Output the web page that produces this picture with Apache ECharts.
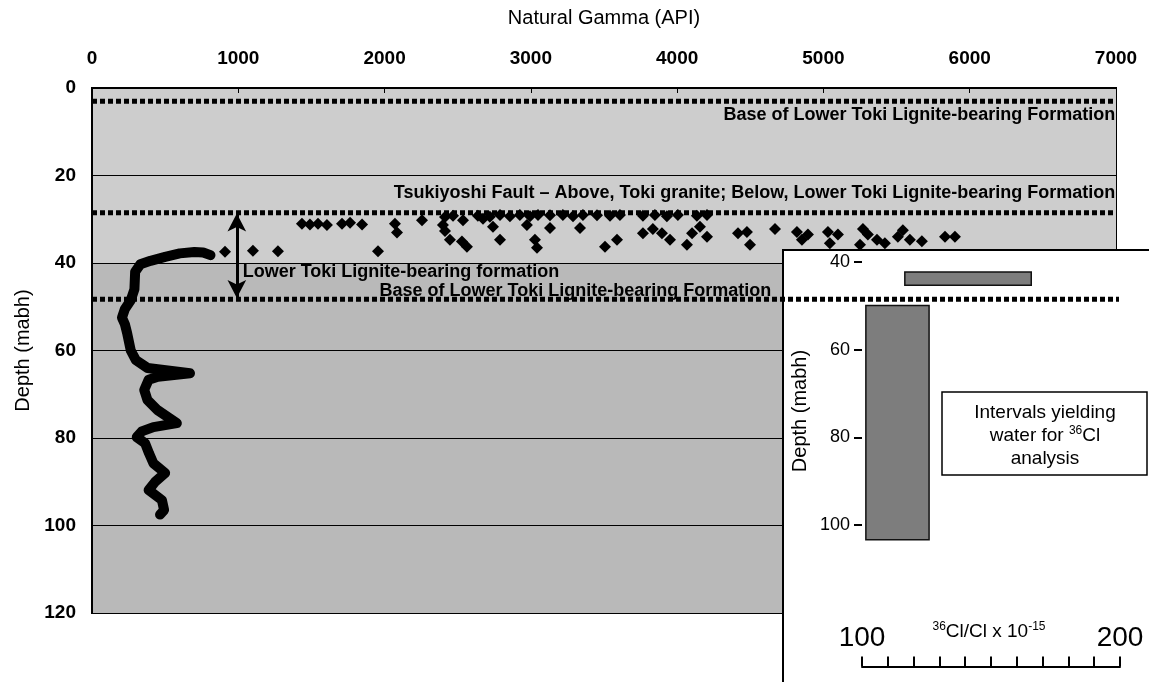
<!DOCTYPE html>
<html>
<head>
<meta charset="utf-8">
<title>Natural gamma log</title>
<script src="https://cdn.jsdelivr.net/npm/echarts@6/dist/echarts.min.js"></script>
<style>
  html, body { margin: 0; padding: 0; background: #fff; }
  #chart { width: 1149px; height: 682px; }
</style>
</head>
<body>
<div id="chart"></div>
<script>
  // gamma log trace: [API, depth]
  const gammaLog = [
    [810, 38.2], [760, 37.6], [700, 37.5], [600, 37.8], [500, 38.6], [400, 39.5], [330, 40.3],
    [295, 42], [290, 46], [265, 48.5], [225, 50.5], [205, 52.5], [225, 54],
    [240, 56], [265, 60], [300, 62.2], [380, 64], [670, 65.2], [450, 66], [387, 66.7],
    [357, 69], [379, 71.3], [447, 73.6], [580, 76.6], [420, 77.5], [340, 78.5], [306, 79.8],
    [363, 81.2], [390, 83.5], [420, 85.8], [500, 88], [432, 90], [387, 91.9], [478, 94.2],
    [493, 96.5], [465, 97.5]
  ]

  // diamonds: [API, depth]
  const gammaPoints = [
    [909, 37.4], [1100, 37.2], [1271, 37.3], [1955, 37.3],
    [1435, 31], [1490, 31.2], [1545, 31], [1606, 31.3], [1709, 31], [1764, 30.8], [1846, 31.2],
    [2071, 31], [2085, 33], [2256, 30.2], [2399, 31.3], [2413, 32.7], [2413, 29.5],
    [2468, 29.2], [2638, 29.2], [2720, 29.4], [2789, 29], [2857, 29.3], [2925, 29], [2994, 29.3],
    [3049, 29], [3131, 29.1], [3219, 29], [3288, 29.3], [3356, 29], [3452, 29.1], [3541, 29.2],
    [3609, 29], [3766, 29.2], [3848, 29], [3930, 29.3], [4005, 29], [4135, 29.2], [4204, 29],
    [2536, 30.2], [2673, 29.9], [2741, 31.7], [2973, 31.3], [3131, 32], [3336, 32],
    [2447, 34.7], [2529, 35.1], [2563, 36.3], [2789, 34.7], [3028, 34.7], [3042, 36.5], [3507, 36.3],
    [3589, 34.7], [3766, 33.2], [3834, 32.2], [3896, 33.2], [3951, 34.7], [4102, 33.2], [4156, 31.7],
    [4204, 34], [4067, 35.8],
    [4416, 33.2], [4477, 32.9], [4498, 35.8], [4669, 32.2], [4819, 32.9], [4853, 34.7], [4894, 33.5],
    [5031, 32.9], [5044, 35.5], [5099, 33.5], [5250, 35.8], [5270, 32.2], [5304, 33.5], [5366, 34.7],
    [5420, 35.5], [5509, 34], [5543, 32.5], [5591, 34.7], [5673, 35], [5831, 34], [5899, 34]
  ]

  // dotted horizons: depth and API where the line stops
  const horizonDepths = [3, 28.5, 48.3]
  const horizonEnds = [7000, 7000, 7240]

  // text notes: [API, depth, text, side]
  const notes = [
    [6995, 6.2, 'Base of Lower Toki Lignite-bearing Formation', 'left'],
    [6995, 24, 'Tsukiyoshi Fault \u2013 Above, Toki granite; Below, Lower Toki Lignite-bearing Formation', 'left'],
    [1030, 42, 'Lower Toki Lignite-bearing formation', 'right'],
    [1965, 46.4, 'Base of Lower Toki Lignite-bearing Formation', 'right']
  ]
  const arrowApi = 990
  const arrowDepths = [28.7, 48]

  // inset: 36Cl sampling intervals [ratio from, ratio to, depth top, depth bottom]
  const clIntervals = [
    [116.6, 165.6, 42.3, 45.3],
    [101.5, 126, 49.9, 103.4]
  ]

  const FONT = '"Liberation Sans", Arial, sans-serif'
  const chart = echarts.init(document.getElementById('chart'))

  const horizonSeries = horizonDepths.map((d, i) => ({
    type: 'line',
    xAxisIndex: 0, yAxisIndex: 0,
    data: [[0, d], [horizonEnds[i], d]],
    showSymbol: false,
    clip: false,
    z: 4,
    lineStyle: { color: '#000', width: 5, type: [5, 3], cap: 'butt' }
  }))

  chart.setOption({
    animation: false,
    textStyle: { fontFamily: FONT },
    grid: [
      { left: 92, right: 33, top: 88, bottom: 69, show: true, backgroundColor: 'transparent', borderColor: '#000', borderWidth: 2 },
      { left: 862, right: 29, top: 262, bottom: 69.4 }
    ],
    xAxis: [
      {
        gridIndex: 0, type: 'value', position: 'top', min: 0, max: 7000, interval: 1000,
        name: 'Natural Gamma (API)', nameLocation: 'middle', nameGap: 60,
        nameTextStyle: { fontSize: 20, color: '#000', fontFamily: FONT },
        axisLine: { show: true, lineStyle: { color: '#000', width: 1 } },
        axisTick: { show: true, inside: true, length: 5, lineStyle: { color: '#000' } },
        axisLabel: { fontSize: 19, fontWeight: 'bold', color: '#000', margin: 20, fontFamily: FONT, formatter: v => String(v) },
        splitLine: { show: false }
      },
      {
        gridIndex: 1, type: 'value', position: 'bottom', offset: 54, min: 100, max: 200, interval: 10,
        z: 3,
        axisLine: { show: true, lineStyle: { color: '#000', width: 2 } },
        axisTick: { show: true, inside: true, length: 10, lineStyle: { color: '#000', width: 2 } },
        axisLabel: { inside: true, margin: 14, fontSize: 28, color: '#000', fontFamily: FONT, customValues: [100, 200] },
        splitLine: { show: false }
      }
    ],
    yAxis: [
      {
        gridIndex: 0, type: 'value', inverse: true, min: 0, max: 120, interval: 20,
        name: 'Depth (mabh)', nameLocation: 'middle', nameGap: 59,
        nameTextStyle: { fontSize: 20, color: '#000', fontFamily: FONT },
        axisLine: { show: true, lineStyle: { color: '#000', width: 2 } },
        axisTick: { show: false },
        axisLabel: { fontSize: 19, fontWeight: 'bold', color: '#000', margin: 16, fontFamily: FONT },
        splitLine: { show: true, lineStyle: { color: '#000', width: 1 } },
        splitArea: { show: true, areaStyle: { color: ['#cdcdcd', '#cdcdcd', '#b9b9b9', '#b9b9b9', '#b9b9b9', '#b9b9b9'] } }
      },
      {
        gridIndex: 1, type: 'value', inverse: true, min: 40, max: 120, interval: 20,
        z: 3,
        axisLine: { show: false },
        axisTick: { show: true, length: 8, lineStyle: { color: '#000', width: 2 }, customValues: [40, 60, 80, 100] },
        axisLabel: { fontSize: 18, color: '#000', margin: 12, fontFamily: FONT, customValues: [40, 60, 80, 100] },
        splitLine: { show: false }
      }
    ],
    graphic: [
      {
        type: 'rect', z: 1,
        shape: { x: 783, y: 250, width: 380, height: 450 },
        style: { fill: '#fff', stroke: '#000', lineWidth: 2 }
      },
      {
        type: 'text', z: 5, x: 800, y: 411, rotation: Math.PI / 2,
        style: { text: 'Depth (mabh)', font: '20px ' + FONT, fill: '#000', align: 'center', verticalAlign: 'middle' }
      },
      {
        type: 'rect', z: 5,
        shape: { x: 942, y: 392, width: 205, height: 83 },
        style: { fill: '#fff', stroke: '#000', lineWidth: 1.5 }
      },
      {
        type: 'text', z: 6, x: 1045, y: 436,
        style: {
          text: 'Intervals yielding\nwater for {sup|36}Cl\nanalysis',
          font: '19px ' + FONT, fill: '#000', align: 'center', verticalAlign: 'middle', lineHeight: 23,
          rich: { sup: { fontSize: 12, verticalAlign: 'top', lineHeight: 23, fill: '#000', fontFamily: FONT } }
        }
      },
      {
        type: 'text', z: 6, x: 989, y: 632,
        style: {
          text: '{sup|36}Cl/Cl x 10{sup|-15}',
          font: '19px ' + FONT, fill: '#000', align: 'center', verticalAlign: 'middle', lineHeight: 22,
          rich: { sup: { fontSize: 12, verticalAlign: 'top', lineHeight: 22, fill: '#000', fontFamily: FONT } }
        }
      }
    ],
    series: [
      ...horizonSeries,
      {
        name: 'gamma log', type: 'line', xAxisIndex: 0, yAxisIndex: 0,
        data: gammaLog, showSymbol: false, z: 3,
        lineStyle: { color: '#000', width: 10, join: 'round', cap: 'round' }
      },
      {
        name: 'gamma points', type: 'scatter', xAxisIndex: 0, yAxisIndex: 0,
        data: gammaPoints, symbol: 'diamond', symbolSize: [12, 12], z: 3,
        itemStyle: { color: '#000', opacity: 1 }
      },
      {
        name: 'notes', type: 'scatter', xAxisIndex: 0, yAxisIndex: 0, symbolSize: 0, z: 5,
        itemStyle: { opacity: 1 },
        data: notes.map(n => ({
          value: [n[0], n[1]],
          label: {
            show: true, position: n[3], distance: 0,
            formatter: n[2], fontSize: 18, fontWeight: 'bold', color: '#000', fontFamily: FONT
          }
        })),
        markLine: {
          silent: true, symbol: ['arrow', 'arrow'], symbolSize: [14, 18],
          lineStyle: { color: '#000', width: 3, type: 'solid', opacity: 1 },
          label: { show: false },
          data: [[{ coord: [arrowApi, arrowDepths[0]] }, { coord: [arrowApi, arrowDepths[1]] }]]
        }
      },
      {
        name: 'Cl intervals', type: 'custom', xAxisIndex: 1, yAxisIndex: 1, z: 4,
        data: clIntervals,
        encode: { x: [0, 1], y: [2, 3] },
        renderItem: (params, api) => {
          const p0 = api.coord([api.value(0), api.value(2)])
          const p1 = api.coord([api.value(1), api.value(3)])
          return {
            type: 'rect',
            shape: { x: p0[0], y: p0[1], width: p1[0] - p0[0], height: p1[1] - p0[1] },
            style: { fill: '#7d7d7d', stroke: '#111', lineWidth: 1.5 }
          }
        }
      }
    ]
  })
</script>
</body>
</html>
